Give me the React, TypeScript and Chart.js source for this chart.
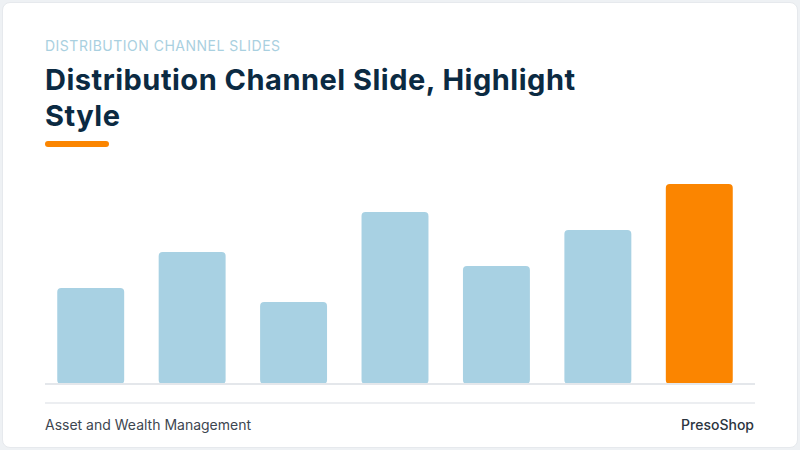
import React, { useEffect, useRef } from "react";
import { Chart, registerables } from "chart.js";

Chart.register(...registerables);

const categories = ["Channel 1", "Channel 2", "Channel 3", "Channel 4", "Channel 5", "Channel 6", "Channel 7"];
const values = [48, 66, 41, 86, 59, 77, 100];
const highlightIndex = 6;

const BLUE = "#a8d1e3";
const ORANGE = "#fb8500";
const NAVY = "#0b2a42";
const FONT = "Inter, 'Open Sans', sans-serif";

export default function App() {
  const canvasRef = useRef<HTMLCanvasElement>(null);

  useEffect(() => {
    document.body.style.margin = "0";
    if (!canvasRef.current) return;
    const chart = new Chart(canvasRef.current, {
      type: "bar",
      data: {
        labels: categories,
        datasets: [
          {
            data: values,
            backgroundColor: values.map((_, i) => (i === highlightIndex ? ORANGE : BLUE)),
            borderRadius: 4,
            borderSkipped: false,
            barPercentage: 0.66,
            categoryPercentage: 1,
          },
        ],
      },
      options: {
        animation: false,
        responsive: false,
        maintainAspectRatio: false,
        layout: { padding: 0 },
        plugins: { legend: { display: false }, tooltip: { enabled: false } },
        scales: {
          x: { display: false },
          y: { display: false, min: 0, max: 110 },
        },
      },
    });
    return () => chart.destroy();
  }, []);

  return (
    <div style={{ position: "fixed", inset: 0, background: "#eef1f4", fontFamily: FONT }}>
      <div
        style={{
          position: "absolute",
          left: 2,
          top: 2,
          right: 2,
          bottom: 2,
          background: "#ffffff",
          borderRadius: 8,
          border: "1px solid #e6e9ed",
        }}
      >
        <div
          style={{
            position: "absolute",
            left: 42,
            top: 34,
            fontSize: 14,
            color: "#a9d0e0",
            letterSpacing: 0.5,
          }}
        >
          DISTRIBUTION CHANNEL SLIDES
        </div>
        <div
          style={{
            position: "absolute",
            left: 42,
            top: 59,
            width: 560,
            fontSize: 29,
            fontWeight: 700,
            lineHeight: "36px",
            letterSpacing: 0.5,
            color: NAVY,
          }}
        >
          Distribution Channel Slide, Highlight Style
        </div>
        <div
          style={{
            position: "absolute",
            left: 42,
            top: 138,
            width: 64,
            height: 6,
            borderRadius: 3,
            background: ORANGE,
          }}
        />
        <canvas
          ref={canvasRef}
          width={710}
          height={220}
          style={{ position: "absolute", left: 37, top: 161, width: 710, height: 220 }}
        />
        <div
          style={{
            position: "absolute",
            left: 42,
            top: 380,
            width: 710,
            height: 2,
            background: "#e4e7eb",
          }}
        />
        <div
          style={{
            position: "absolute",
            left: 42,
            top: 399,
            width: 710,
            height: 2,
            background: "#eceef1",
          }}
        />
        <div style={{ position: "absolute", left: 42, top: 413, fontSize: 14, color: "#3d4650" }}>
          Asset and Wealth Management
        </div>
        <div
          style={{
            position: "absolute",
            right: 43,
            top: 413,
            fontSize: 14,
            fontWeight: 500,
            color: "#2b3540",
          }}
        >
          PresoShop
        </div>
      </div>
    </div>
  );
}
